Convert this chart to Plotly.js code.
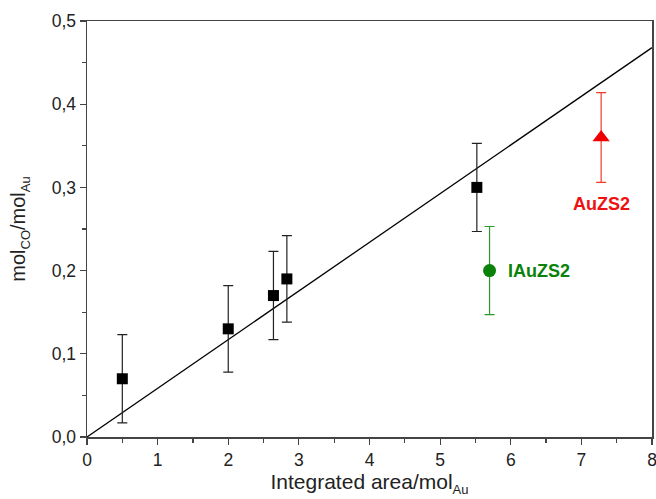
<!DOCTYPE html>
<html><head><meta charset="utf-8">
<script src="https://cdn.plot.ly/plotly-3.0.1.min.js"></script>
<style>html,body{margin:0;padding:0;background:#fff;}</style>
</head><body>
<div id="chart" style="width:656px;height:499px;"></div>
<script>
// Sample series (black squares)
const sampleX = [0.5, 2.0, 2.64, 2.83, 5.52];
const sampleY = [0.07, 0.13, 0.17, 0.19, 0.30];
const sampleErr = [0.053, 0.052, 0.053, 0.052, 0.053];
// IAuZS2 (green circle)
const iauX = [5.7];
const iauY = [0.20];
const iauErr = [0.053];
// AuZS2 (red triangle)
const auX = [7.28];
const auY = [0.36];
const auErr = [0.054];
// Linear fit line
const fitX = [0, 8];
const fitY = [0, 0.468];
// Labels
const labelIAu = "IAuZS2";
const labelAu = "AuZS2";
const xTicks = [0, 1, 2, 3, 4, 5, 6, 7, 8];
const yTicks = [0, 0.1, 0.2, 0.3, 0.4, 0.5];

const sub = s => '<sub><span style="font-size:13px">' + s + '</span></sub>';

const traces = [
  {x: fitX, y: fitY, mode: 'lines', line: {color: '#000', width: 1.3}, hoverinfo: 'skip'},
  {x: sampleX, y: sampleY, mode: 'markers', marker: {symbol: 'square', size: 11, color: '#000'},
   error_y: {type: 'data', array: sampleErr, visible: true, color: '#222', thickness: 1.2, width: 5}},
  {x: iauX, y: iauY, mode: 'markers', marker: {symbol: 'circle', size: 13, color: '#0a820a'},
   error_y: {type: 'data', array: iauErr, visible: true, color: '#2a9a2a', thickness: 1.2, width: 5}},
  {x: auX, y: auY, mode: 'markers', marker: {symbol: 'triangle-up', size: 15, color: '#ee0000'},
   error_y: {type: 'data', array: auErr, visible: true, color: '#f03a2a', thickness: 1.2, width: 5}}
];

const layout = {
  width: 656, height: 499,
  margin: {l: 87, r: 4, t: 21, b: 62},
  paper_bgcolor: '#fff', plot_bgcolor: '#fff',
  showlegend: false,
  separators: ',.',
  font: {family: 'Liberation Sans, Arial, sans-serif', color: '#222'},
  xaxis: {
    range: [0, 8], tickvals: xTicks, ticks: 'outside', ticklen: 6, tickwidth: 1.2,
    ticklabeloverflow: 'allow',
    tickcolor: '#444', showline: true, linecolor: '#444', linewidth: 1.5, mirror: true,
    showgrid: false, zeroline: false, tickfont: {size: 17.5, color: '#222'},
    minor: {tickvals: [0.5,1.5,2.5,3.5,4.5,5.5,6.5,7.5], ticks: 'outside', ticklen: 4, tickcolor: '#444', showgrid: false},
    title: {text: 'Integrated area/mol' + sub('Au'), font: {size: 21, color: '#222'}, standoff: 6}
  },
  yaxis: {
    range: [0, 0.5], tickvals: yTicks, tickformat: '.1f', ticks: 'outside', ticklen: 6, tickwidth: 1.2,
    tickcolor: '#444', showline: true, linecolor: '#444', linewidth: 1.5, mirror: true,
    showgrid: false, zeroline: false, tickfont: {size: 17.5, color: '#222'},
    minor: {tickvals: [0.05,0.15,0.25,0.35,0.45], ticks: 'outside', ticklen: 4, tickcolor: '#444', showgrid: false},
    title: {text: 'mol' + sub('CO') + '/mol' + sub('Au'), font: {size: 20, color: '#222'}, standoff: 20}
  },
  annotations: [
    {x: iauX[0], y: iauY[0], xref: 'x', yref: 'y', text: '<b>' + labelIAu + '</b>', showarrow: false,
     xanchor: 'left', xshift: 16, font: {size: 18, color: '#0a820a'}},
    {x: auX[0], y: auY[0] - auErr[0], xref: 'x', yref: 'y', text: '<b>' + labelAu + '</b>', showarrow: false,
     yanchor: 'top', yshift: -10, font: {size: 18, color: '#ee1111'}}
  ]
};

Plotly.newPlot('chart', traces, layout, {displayModeBar: false, staticPlot: true});
</script>
</body></html>
